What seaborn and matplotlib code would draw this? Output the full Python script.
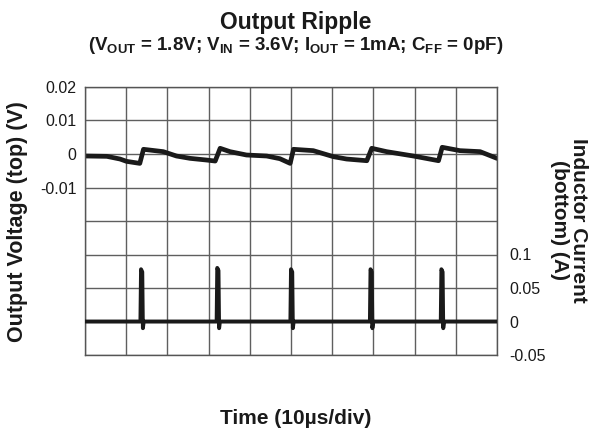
import matplotlib
matplotlib.use("Agg")
import matplotlib.pyplot as plt
import seaborn as sns
import pandas as pd
import numpy as np

# ---- data ----
v_time = [0.0, 5.3, 8.5, 10.1, 13.3, 14.2, 19.0, 22.2, 25.5, 29.5, 31.6, 32.8, 35.2, 39.2,
          44.1, 47.3, 49.8, 50.6, 55.4, 60.3, 63.5, 68.4, 69.6, 73.2, 79.7, 85.8, 86.7,
          91.0, 95.9, 100.0]
v_out = [-0.0006, -0.0007, -0.0015, -0.0022, -0.0028, 0.0014, 0.0007, -0.0006, -0.0013,
         -0.0018, -0.0021, 0.0017, 0.0007, -0.0003, -0.0006, -0.0014, -0.0028, 0.0014,
         0.0010, -0.0008, -0.0015, -0.0020, 0.0017, 0.0007, -0.0006, -0.0020, 0.0020,
         0.0010, 0.0007, -0.0013]

spike_times = [13.6, 32.1, 50.0, 69.3, 86.5]
spike_peak = [0.078, 0.080, 0.078, 0.078, 0.078]
spike_dip = [-0.010, -0.010, -0.010, -0.010, -0.010]

v_ticklabels = ["", "", "", "", "", "-0.01", "0", "0.01", "0.02"]
i_ticks = [0.1, 0.05, 0, -0.05]
i_ticklabels = ["0.1", "0.05", "0", "-0.05"]

# build current trace table from spike values
i_t, i_v = [0.0], [0.0]
for ts, pk, dp in zip(spike_times, spike_peak, spike_dip):
    i_t += [ts - 0.15, ts, ts + 0.3, ts + 0.45, ts + 0.65]
    i_v += [0.0, pk, pk - 0.004, dp, 0.0]
i_t.append(100.0)
i_v.append(0.0)

df_v = pd.DataFrame({"t": v_time, "v": v_out})
df_i = pd.DataFrame({"t": i_t, "i": i_v})

sns.set_theme(style="white")
plt.rcParams["font.family"] = ["Liberation Sans", "DejaVu Sans"]

W, H = 593, 437
fig = plt.figure(figsize=(W / 100, H / 100), dpi=100)
ax = fig.add_axes([85 / W, 1 - 355 / H, 412 / W, 268 / H])

sns.lineplot(data=df_v, x="t", y="v", ax=ax, color="#1a1a1a", linewidth=3.4,
             estimator=None, sort=False)
ax.set_xlim(0, 100)
ax.set_ylim(-0.06, 0.02)
ax.set_xticks(np.linspace(0, 100, 11))
ax.set_xticklabels([])
ax.set_yticks(np.linspace(-0.06, 0.02, 9))
ax.set_yticklabels(v_ticklabels)
ax.grid(True, color="#5f5f5f", linewidth=1.0)
ax.tick_params(axis="both", length=0, labelsize=11.5, colors="#1a1a1a", pad=6)
ax.set_xlabel("")
ax.set_ylabel("")
for s in ax.spines.values():
    s.set_color("#555555")
    s.set_linewidth(1.0)

ax2 = ax.twinx()
sns.lineplot(data=df_i, x="t", y="i", ax=ax2, color="#1a1a1a", linewidth=2.8,
             estimator=None, sort=False)
ax2.set_ylim(-0.05, 0.35)
ax2.set_yticks(i_ticks)
ax2.set_yticklabels(i_ticklabels)
ax2.tick_params(axis="y", length=0, labelsize=11.5, colors="#1a1a1a", pad=9)
ax2.grid(False)
ax2.set_ylabel("")
ax2.set_xlabel("")
for s in ax2.spines.values():
    s.set_visible(False)

fig.text(296 / W, 1 - 22 / H, "Output Ripple", ha="center", va="center",
         fontsize=16.5, fontweight="bold", color="#1a1a1a")
fig.text(296 / W, 1 - 46 / H,
         r"($\mathregular{V_{OUT}}$ = 1.8V; $\mathregular{V_{IN}}$ = 3.6V; "
         r"$\mathregular{I_{OUT}}$ = 1mA; $\mathregular{C_{FF}}$ = 0pF)",
         ha="center", va="center", fontsize=13.5, fontweight="bold", color="#1a1a1a")
fig.text(18 / W, 1 - 222 / H, "Output Voltage (top) (V)", rotation=90,
         ha="center", va="center", fontsize=15.5, fontweight="bold", color="#1a1a1a")
fig.text(569 / W, 1 - 220 / H, "Inductor Current\n(bottom) (A)", rotation=270,
         ha="center", va="center", fontsize=15, fontweight="bold", color="#1a1a1a",
         linespacing=1.0, multialignment="center")
fig.text(296 / W, 1 - 419 / H, "Time (10µs/div)", ha="center", va="center",
         fontsize=15, fontweight="bold", color="#1a1a1a")

fig.savefig("out.png", dpi=100)
